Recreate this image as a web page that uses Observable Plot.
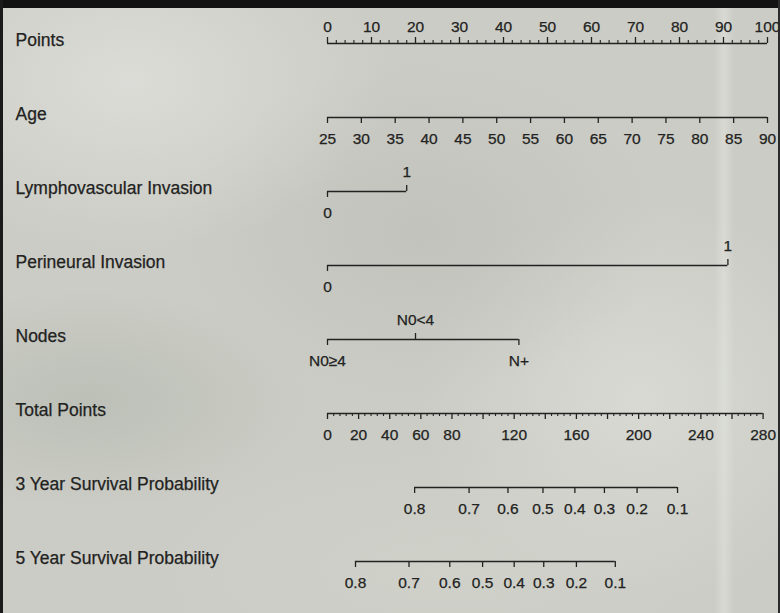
<!DOCTYPE html>
<html>
<head>
<meta charset="utf-8">
<script src="https://cdn.jsdelivr.net/npm/d3@7"></script>
<script src="https://cdn.jsdelivr.net/npm/@observablehq/plot@0.6"></script>
<style>
  html, body { margin: 0; padding: 0; background: #c9cbc4; }
  #sheet {
    position: relative; width: 780px; height: 613px; overflow: hidden;
    background:
      radial-gradient(ellipse 260px 170px at 130px 80px, rgba(226,227,222,0.7), rgba(226,227,222,0) 100%),
      radial-gradient(ellipse 240px 170px at 420px 230px, rgba(180,183,176,0.45), rgba(180,183,176,0) 100%),
      radial-gradient(ellipse 220px 110px at 90px 400px, rgba(176,182,172,0.55), rgba(176,182,172,0) 100%),
      radial-gradient(ellipse 220px 200px at 640px 400px, rgba(224,226,220,0.6), rgba(224,226,220,0) 100%),
      radial-gradient(ellipse 300px 120px at 450px 570px, rgba(212,214,206,0.5), rgba(212,214,206,0) 100%),
      linear-gradient(90deg, rgba(0,0,0,0) 714px, rgba(232,233,228,0.45) 724px, rgba(0,0,0,0) 734px),
      #cbccc5;
    font-family: "Liberation Sans", Arial, sans-serif;
  }
  #band { position: absolute; left: 0; top: 0; width: 780px; height: 8px; background: #121212; }
  #edgeL { position: absolute; left: 0; top: 0; width: 3px; height: 613px; background: #1a1a1a; }
  #edgeR { position: absolute; right: 0; top: 0; width: 2px; height: 613px; background: #2a2a2a; }
  #chart { position: absolute; left: 0; top: 0; }
</style>
</head>
<body>
<div id="sheet"><div id="chart"></div><div id="band"></div><div id="edgeL"></div><div id="edgeR"></div></div>
<script>
// Nomogram rows, top to bottom
const rows = [
  "Points",
  "Age",
  "Lymphovascular Invasion",
  "Perineural Invasion",
  "Nodes",
  "Total Points",
  "3 Year Survival Probability",
  "5 Year Survival Probability"
];

// Points scale (0–100)
const pointLabels = [0, 10, 20, 30, 40, 50, 60, 70, 80, 90, 100];

// Age: 25 → 0 points, 90 → 100 points
const ageLabels = [25, 30, 35, 40, 45, 50, 55, 60, 65, 70, 75, 80, 85, 90];
const ageMin = 25, ageMax = 90;

// Categorical predictors and their points
const lymphoLevels = ["0", "1"];
const lymphoPoints = [0, 18];
const perineuralLevels = ["0", "1"];
const perineuralPoints = [0, 91];
const nodeLevels = ["N0≥4", "N0<4", "N+"];
const nodePoints = [0, 20, 43.5];

// Total points axis
const totalLabels = [0, 20, 40, 60, 80, 120, 160, 200, 240, 280];
const totalMax = 280;

// Survival probabilities and the total points where they fall
const survivalLevels = [0.8, 0.7, 0.6, 0.5, 0.4, 0.3, 0.2, 0.1];
const survival3Total = [56, 91, 116, 138.5, 159, 178, 199, 225];
const survival5Total = [18, 52.4, 78.6, 99.7, 120, 139, 160, 185];

// ---- build tables in points-axis units ----
// the total points axis is drawn slightly shorter than the 0–100 points axis
const totalSpan = 99;
const fromAge = a => (a - ageMin) / (ageMax - ageMin) * 100;
const fromTotal = t => t / totalMax * totalSpan;

const lines = [
  {row: rows[0], x1: 0, x2: 100},
  {row: rows[1], x1: fromAge(ageMin), x2: fromAge(ageMax)},
  {row: rows[2], x1: d3.min(lymphoPoints), x2: d3.max(lymphoPoints)},
  {row: rows[3], x1: d3.min(perineuralPoints), x2: d3.max(perineuralPoints)},
  {row: rows[4], x1: d3.min(nodePoints), x2: d3.max(nodePoints)},
  {row: rows[5], x1: 0, x2: fromTotal(totalMax)},
  {row: rows[6], x1: d3.min(survival3Total.map(fromTotal)), x2: d3.max(survival3Total.map(fromTotal))},
  {row: rows[7], x1: d3.min(survival5Total.map(fromTotal)), x2: d3.max(survival5Total.map(fromTotal))}
];

const ticksUpMajor = [], ticksUpMinor = [], ticksDownMajor = [], ticksDownMinor = [];
const labelsTop = [], labelsAbove = [], labelsBelow = [];

// Points: ticks point up, labels on top
for (let p = 0; p <= 100; p += 2) {
  (p % 10 === 0 ? ticksUpMajor : ticksUpMinor).push({row: rows[0], x: p});
}
pointLabels.forEach(p => labelsTop.push({row: rows[0], x: p, text: String(p)}));

// Age
ageLabels.forEach(a => {
  ticksDownMajor.push({row: rows[1], x: fromAge(a)});
  labelsBelow.push({row: rows[1], x: fromAge(a), text: String(a)});
});

// Binary / categorical rows: alternate label side
function categorical(row, levels, pts) {
  levels.forEach((lev, i) => {
    const up = i % 2 === 1;
    (up ? ticksUpMajor : ticksDownMajor).push({row, x: pts[i]});
    (up ? labelsAbove : labelsBelow).push({row, x: pts[i], text: lev});
  });
}
categorical(rows[2], lymphoLevels, lymphoPoints);
categorical(rows[3], perineuralLevels, perineuralPoints);
categorical(rows[4], nodeLevels, nodePoints);

// Total points
for (let t = 0; t <= totalMax; t += 4) {
  (t % 20 === 0 ? ticksDownMajor : ticksDownMinor).push({row: rows[5], x: fromTotal(t)});
}
totalLabels.forEach(t => labelsBelow.push({row: rows[5], x: fromTotal(t), text: String(t)}));

// Survival rows
survivalLevels.forEach((s, i) => {
  ticksDownMajor.push({row: rows[6], x: fromTotal(survival3Total[i])});
  labelsBelow.push({row: rows[6], x: fromTotal(survival3Total[i]), text: s.toFixed(1)});
  ticksDownMajor.push({row: rows[7], x: fromTotal(survival5Total[i])});
  labelsBelow.push({row: rows[7], x: fromTotal(survival5Total[i]), text: s.toFixed(1)});
});

const ink = "#222221";

const chart = Plot.plot({
  width: 780,
  height: 613,
  marginTop: 0, marginRight: 0, marginBottom: 0, marginLeft: 0,
  style: {background: "transparent", fontFamily: "'Liberation Sans', Arial, sans-serif"},
  x: {domain: [0, 100], range: [327, 767], axis: null},
  y: {type: "point", domain: rows, range: [41, 563], padding: 0, axis: null},
  marks: [
    // row titles
    Plot.text(rows, {y: d => d, text: d => d, frameAnchor: "left", dx: 15, dy: -3,
      textAnchor: "start", fontSize: 17.5, fill: ink, stroke: ink, strokeWidth: 0.25}),
    // axis lines
    Plot.ruleY(lines, {y: "row", x1: "x1", x2: "x2", stroke: ink, strokeWidth: 1.5}),
    // ticks
    Plot.ruleX(ticksUpMajor, {x: "x", y1: "row", y2: "row", insetTop: -6, stroke: ink, strokeWidth: 1.3}),
    Plot.ruleX(ticksUpMinor, {x: "x", y1: "row", y2: "row", insetTop: -3, stroke: ink, strokeWidth: 1.1}),
    Plot.ruleX(ticksDownMajor, {x: "x", y1: "row", y2: "row", insetBottom: -6, stroke: ink, strokeWidth: 1.3}),
    Plot.ruleX(ticksDownMinor, {x: "x", y1: "row", y2: "row", insetBottom: -3, stroke: ink, strokeWidth: 1.1}),
    // tick labels
    Plot.text(labelsTop, {x: "x", y: "row", text: "text", dy: -16, fontSize: 15.5, fill: ink, stroke: ink, strokeWidth: 0.25}),
    Plot.text(labelsAbove, {x: "x", y: "row", text: "text", dy: -19, fontSize: 15.5, fill: ink, stroke: ink, strokeWidth: 0.25}),
    Plot.text(labelsBelow, {x: "x", y: "row", text: "text", dy: 22, fontSize: 15.5, fill: ink, stroke: ink, strokeWidth: 0.25})
  ]
});
document.getElementById("chart").appendChild(chart);
</script>
</body>
</html>
